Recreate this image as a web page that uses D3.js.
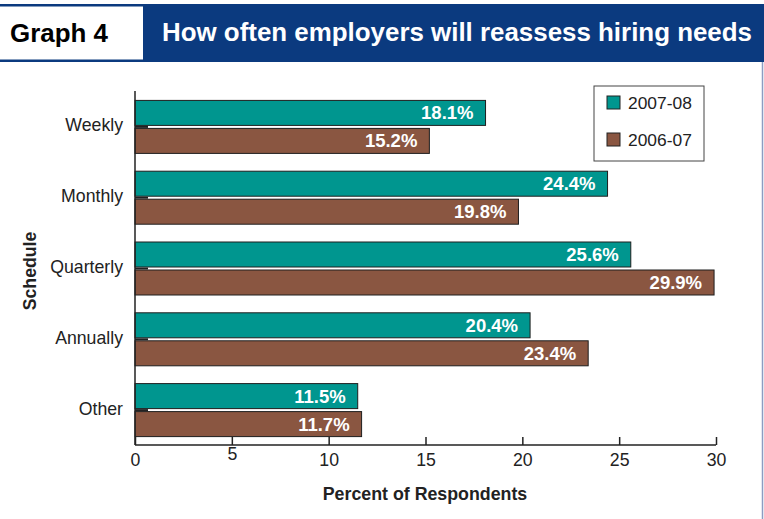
<!DOCTYPE html>
<html>
<head>
<meta charset="utf-8">
<script src="https://cdn.jsdelivr.net/npm/d3@7"></script>
<style>
  html, body { margin: 0; padding: 0; background: #fff; }
  svg { display: block; font-family: "Liberation Sans", Arial, Helvetica, sans-serif; }
</style>
</head>
<body>
<svg id="chart" width="764" height="519"></svg>
<script>
// Survey results: how often employers will reassess hiring needs
const categories = ["Weekly", "Monthly", "Quarterly", "Annually", "Other"];
const seriesNames = ["2007-08", "2006-07"];
const values2007 = [18.1, 24.4, 25.6, 20.4, 11.5];
const values2006 = [15.2, 19.8, 29.9, 23.4, 11.7];
const xTicks = [0, 5, 10, 15, 20, 25, 30];

const colors = { "2007-08": "#00968f", "2006-07": "#8a5641" };
const navy = "#0b3a7f";
const ink = "#222";

const svg = d3.select("#chart");

// Header band
svg.append("rect").attr("x", 0).attr("y", 4).attr("width", 764).attr("height", 2.5).attr("fill", navy);
svg.append("rect").attr("x", 0).attr("y", 59.5).attr("width", 145).attr("height", 2.5).attr("fill", navy);
svg.append("rect").attr("x", 143).attr("y", 4).attr("width", 621).attr("height", 58).attr("fill", navy);
svg.append("text").attr("x", 10).attr("y", 42).attr("font-size", 25).attr("font-weight", "bold")
  .attr("fill", "#000").attr("textLength", 98).attr("lengthAdjust", "spacingAndGlyphs").text("Graph 4");
svg.append("text").attr("x", 162).attr("y", 41).attr("font-size", 25).attr("font-weight", "bold")
  .attr("fill", "#fff").attr("textLength", 590).attr("lengthAdjust", "spacingAndGlyphs")
  .text("How often employers will reassess hiring needs");

// Right frame line
svg.append("line").attr("x1", 762.5).attr("x2", 762.5).attr("y1", 62).attr("y2", 519)
  .attr("stroke", "#8d9cc2").attr("stroke-width", 1.5);

// Scales
const x = d3.scaleLinear().domain([0, 30]).range([135, 716]);
const y = d3.scaleBand().domain(categories).range([91.5, 445.5]);
const barH = 25, gap = 3;

const rows = categories.map((c, i) => ({ cat: c, vals: [values2007[i], values2006[i]] }));

const g = svg.append("g");
rows.forEach(r => {
  const cy = y(r.cat) + y.bandwidth() / 2;
  r.vals.forEach((v, k) => {
    const top = k === 0 ? cy - gap / 2 - barH : cy + gap / 2;
    g.append("rect")
      .attr("x", x(0)).attr("y", top)
      .attr("width", x(v) - x(0)).attr("height", barH)
      .attr("fill", colors[seriesNames[k]])
      .attr("stroke", "#1e1e1e").attr("stroke-width", 1);
    g.append("text")
      .attr("x", x(v) - 12).attr("y", top + barH / 2 + 6.5)
      .attr("text-anchor", "end").attr("font-size", 18.5).attr("font-weight", "bold")
      .attr("fill", "#fff").text(v.toFixed(1) + "%");
  });
  // short category tick
  g.append("line").attr("x1", x(0)).attr("x2", x(0) + 13).attr("y1", cy).attr("y2", cy)
    .attr("stroke", ink).attr("stroke-width", 2);
  // category label
  g.append("text").attr("x", 123).attr("y", cy + 4.5).attr("text-anchor", "end")
    .attr("font-size", 17.7).attr("fill", ink).text(r.cat);
});

// Y axis line
svg.append("line").attr("x1", x(0)).attr("x2", x(0)).attr("y1", 91).attr("y2", 445)
  .attr("stroke", ink).attr("stroke-width", 1.5);

// X axis
const xAxis = d3.axisBottom(x).tickValues(xTicks).tickSize(-8).tickPadding(8).tickFormat(d3.format("d"));
const ax = svg.append("g").attr("transform", "translate(0,445)").call(xAxis);
ax.select(".domain").attr("stroke", ink).attr("stroke-width", 1.5).attr("d", `M${x(0)},0H${x(30)}`);
ax.selectAll(".tick line").attr("stroke", ink).attr("stroke-width", 1.5);
ax.selectAll(".tick text").attr("font-size", 17.7).attr("fill", ink)
  .attr("font-family", "Liberation Sans, Arial, sans-serif")
  .attr("dy", d => d === 5 ? "0.37em" : "0.71em");

// Axis titles
svg.append("text").attr("x", 425).attr("y", 500).attr("text-anchor", "middle")
  .attr("font-size", 17.8).attr("font-weight", "bold").attr("fill", ink).text("Percent of Respondents");
svg.append("text").attr("transform", "translate(36,271) rotate(-90)").attr("text-anchor", "middle")
  .attr("font-size", 17.7).attr("font-weight", "bold").attr("fill", ink).text("Schedule");

// Legend
const lg = svg.append("g");
lg.append("rect").attr("x", 594).attr("y", 86).attr("width", 110).attr("height", 75)
  .attr("fill", "#fff").attr("stroke", "#444").attr("stroke-width", 1);
seriesNames.forEach((s, i) => {
  const yy = 96 + i * 37;
  lg.append("rect").attr("x", 607).attr("y", yy).attr("width", 13).attr("height", 13)
    .attr("fill", colors[s]).attr("stroke", ink).attr("stroke-width", 1);
  lg.append("text").attr("x", 628).attr("y", yy + 13).attr("font-size", 17.4)
    .attr("fill", ink).text(s);
});
</script>
</body>
</html>
